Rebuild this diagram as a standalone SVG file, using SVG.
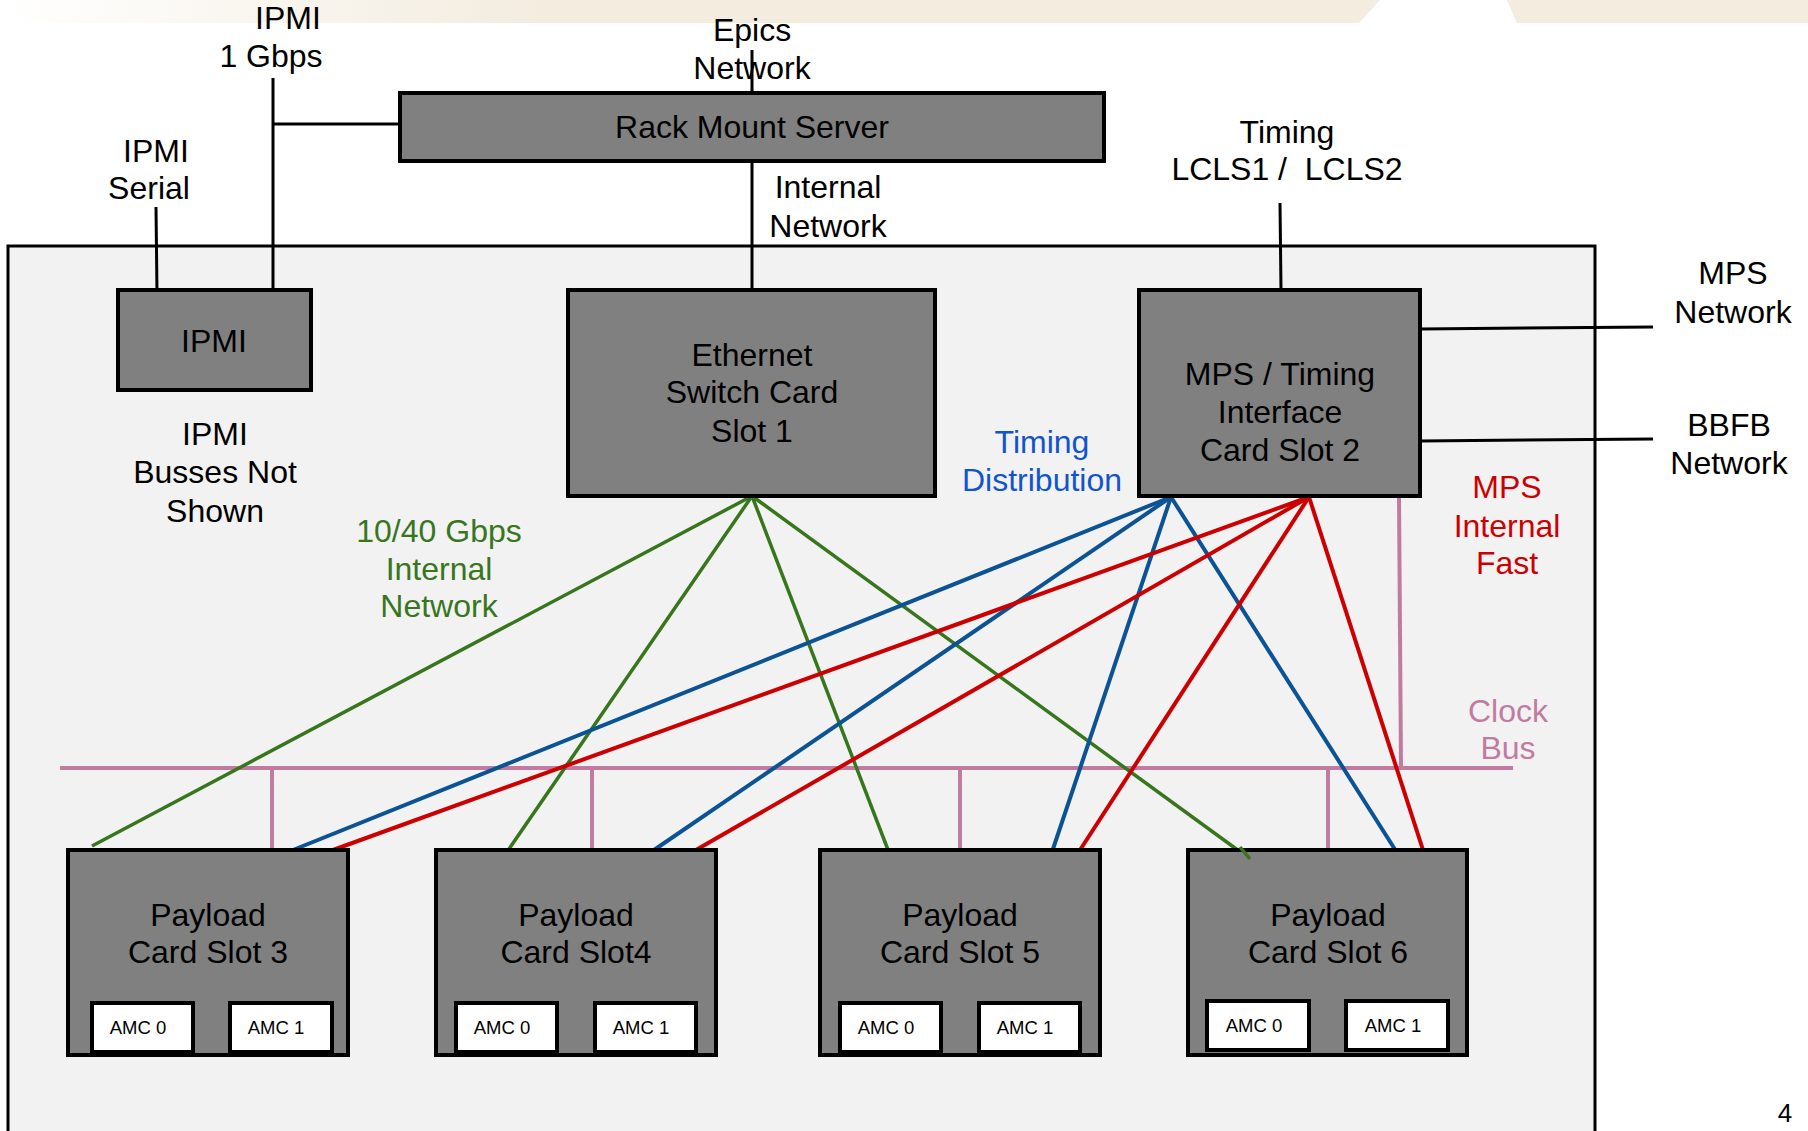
<svg xmlns="http://www.w3.org/2000/svg" width="1808" height="1131" viewBox="0 0 1808 1131">
  <defs>
    <linearGradient id="bannerFade" x1="0" y1="0" x2="1808" y2="0" gradientUnits="userSpaceOnUse">
      <stop offset="0" stop-color="#FFFFFF"/>
      <stop offset="0.3" stop-color="#F3ECDF"/>
      <stop offset="1" stop-color="#F3ECDF"/>
    </linearGradient>
    <style>
      text { font-family: "Liberation Sans", Arial, sans-serif; font-size: 32px; fill: #000; text-anchor: middle; }
      .amc-label { font-size: 18.5px; }
      .page-num { font-size: 26px; }
      .green-label { fill: #38761D; }
      .blue-label { fill: #1155CC; }
      .red-label { fill: #CC0000; }
      .pink-label { fill: #C27BA0; }
      .card { fill: #808080; stroke: #000; stroke-width: 4; }
      .amc { fill: #FFFFFF; stroke: #000; stroke-width: 4; }
      .chassis { fill: #F2F2F2; stroke: #000; stroke-width: 3; }
      .wire { stroke: #000; stroke-width: 3; fill: none; }
      .eth { stroke: #38761D; stroke-width: 3.5; fill: none; }
      .timing { stroke: #0B5394; stroke-width: 4; fill: none; }
      .mps { stroke: #CC0000; stroke-width: 4; fill: none; }
      .clock { stroke: #C27BA0; stroke-width: 4; fill: none; }
    </style>
  </defs>

  <!-- page header band -->
  <path d="M0 0 H1380 L1359 23 H0 Z" fill="url(#bannerFade)"/>
  <path d="M1507 0 H1808 V23 H1517 Z" fill="#F3ECDF"/>

  <!-- chassis outline (runs off the bottom of the page) -->
  <g id="chassis">
    <rect class="chassis" x="8" y="246" width="1587" height="900"/>
  </g>

  <!-- external and internal links -->
  <g id="connectors">
    <!-- black management / network wires -->
    <line class="wire" x1="273" y1="78" x2="273" y2="290"/>
    <line class="wire" x1="273" y1="124" x2="400" y2="124"/>
    <line class="wire" x1="156" y1="207" x2="157" y2="294"/>
    <line class="wire" x1="752" y1="50" x2="752" y2="93"/>
    <line class="wire" x1="752" y1="161" x2="752" y2="290"/>
    <line class="wire" x1="1280" y1="203" x2="1281" y2="290"/>
    <line class="wire" x1="1420" y1="329" x2="1653" y2="327" stroke-width="4"/>
    <line class="wire" x1="1420" y1="441" x2="1653" y2="439" stroke-width="4"/>

    <!-- clock bus -->
    <line class="clock" x1="60" y1="768" x2="1513" y2="768"/>
    <line class="clock" x1="1399" y1="496" x2="1401" y2="768" stroke-width="3"/>
    <line class="clock" x1="272" y1="768" x2="272" y2="850"/>
    <line class="clock" x1="592" y1="768" x2="592" y2="850"/>
    <line class="clock" x1="960" y1="768" x2="960" y2="850"/>
    <line class="clock" x1="1328" y1="768" x2="1328" y2="850"/>

    <!-- 10/40 Gbps internal network -->
    <line class="eth" x1="752" y1="496" x2="92" y2="846"/>
    <line class="eth" x1="752" y1="496" x2="509" y2="849"/>
    <line class="eth" x1="752" y1="496" x2="890" y2="855"/>
    <line class="eth" x1="752" y1="496" x2="1250" y2="859"/>

    <!-- timing distribution -->
    <line class="timing" x1="1171" y1="497" x2="293" y2="850"/>
    <line class="timing" x1="1171" y1="497" x2="654" y2="850"/>
    <line class="timing" x1="1171" y1="497" x2="1052" y2="852"/>
    <line class="timing" x1="1171" y1="497" x2="1396" y2="851"/>

    <!-- MPS internal fast -->
    <line class="mps" x1="1309" y1="497" x2="333" y2="850"/>
    <line class="mps" x1="1309" y1="497" x2="696" y2="850"/>
    <line class="mps" x1="1309" y1="497" x2="1080" y2="850"/>
    <line class="mps" x1="1309" y1="497" x2="1423" y2="850"/>
  </g>

  <!-- free-standing labels -->
  <g id="labels">
    <text x="288" y="29">IPMI</text>
    <text x="271" y="67">1 Gbps</text>
    <text x="752" y="41">Epics</text>
    <text x="752" y="79">Network</text>
    <text x="156" y="162">IPMI</text>
    <text x="149" y="199">Serial</text>
    <text x="828" y="198">Internal</text>
    <text x="828" y="237">Network</text>
    <text x="1287" y="143">Timing</text>
    <text x="1287" y="180" xml:space="preserve">LCLS1 /  LCLS2</text>
    <text x="1733" y="284">MPS</text>
    <text x="1733" y="323">Network</text>
    <text x="1729" y="436">BBFB</text>
    <text x="1729" y="474">Network</text>
    <text x="215" y="445">IPMI</text>
    <text x="215" y="483">Busses Not</text>
    <text x="215" y="522">Shown</text>
    <text class="green-label" x="439" y="542">10/40 Gbps</text>
    <text class="green-label" x="439" y="580">Internal</text>
    <text class="green-label" x="439" y="617">Network</text>
    <text class="blue-label" x="1042" y="453">Timing</text>
    <text class="blue-label" x="1042" y="491">Distribution</text>
    <text class="red-label" x="1507" y="498">MPS</text>
    <text class="red-label" x="1507" y="537">Internal</text>
    <text class="red-label" x="1507" y="574">Fast</text>
    <text class="pink-label" x="1508" y="722">Clock</text>
    <text class="pink-label" x="1508" y="759">Bus</text>
    <text class="page-num" x="1785" y="1122">4</text>
  </g>

  <!-- server and shelf cards -->
  <g id="rack-mount-server">
    <rect class="card" x="400" y="93" width="704" height="68"/>
    <text x="752" y="138">Rack Mount Server</text>
  </g>

  <g id="ipmi">
    <rect class="card" x="118" y="290" width="193" height="100"/>
    <text x="214" y="352">IPMI</text>
  </g>

  <g id="ethernet-switch">
    <rect class="card" x="568" y="290" width="367" height="206"/>
    <text x="752" y="366">Ethernet</text>
    <text x="752" y="403">Switch Card</text>
    <text x="752" y="442">Slot 1</text>
  </g>

  <g id="mps-timing">
    <rect class="card" x="1139" y="290" width="281" height="206"/>
    <text x="1280" y="385">MPS / Timing</text>
    <text x="1280" y="423">Interface</text>
    <text x="1280" y="461">Card Slot 2</text>
  </g>

  <g id="payload-slot3">
    <rect class="card" x="68" y="850" width="280" height="205"/>
    <text x="208" y="926">Payload</text>
    <text x="208" y="963">Card Slot 3</text>
    <rect class="amc" x="92" y="1003" width="101" height="49"/>
    <text class="amc-label" x="138" y="1034">AMC 0</text>
    <rect class="amc" x="230" y="1003" width="102" height="49"/>
    <text class="amc-label" x="276" y="1034">AMC 1</text>
  </g>

  <g id="payload-slot4">
    <rect class="card" x="436" y="850" width="280" height="205"/>
    <text x="576" y="926">Payload</text>
    <text x="576" y="963">Card Slot4</text>
    <rect class="amc" x="456" y="1003" width="101" height="49"/>
    <text class="amc-label" x="502" y="1034">AMC 0</text>
    <rect class="amc" x="595" y="1003" width="101" height="49"/>
    <text class="amc-label" x="641" y="1034">AMC 1</text>
  </g>

  <g id="payload-slot5">
    <rect class="card" x="820" y="850" width="280" height="205"/>
    <text x="960" y="926">Payload</text>
    <text x="960" y="963">Card Slot 5</text>
    <rect class="amc" x="840" y="1003" width="101" height="49"/>
    <text class="amc-label" x="886" y="1034">AMC 0</text>
    <rect class="amc" x="979" y="1003" width="101" height="49"/>
    <text class="amc-label" x="1025" y="1034">AMC 1</text>
  </g>

  <g id="payload-slot6">
    <rect class="card" x="1188" y="850" width="279" height="205"/>
    <text x="1328" y="926">Payload</text>
    <text x="1328" y="963">Card Slot 6</text>
    <rect class="amc" x="1207" y="1001" width="102" height="49"/>
    <text class="amc-label" x="1254" y="1032">AMC 0</text>
    <rect class="amc" x="1346" y="1001" width="102" height="49"/>
    <text class="amc-label" x="1393" y="1032">AMC 1</text>
  </g>

  <!-- ethernet line ending just inside slot 6 -->
  <line class="eth" x1="1240" y1="847" x2="1250" y2="859"/>
</svg>
